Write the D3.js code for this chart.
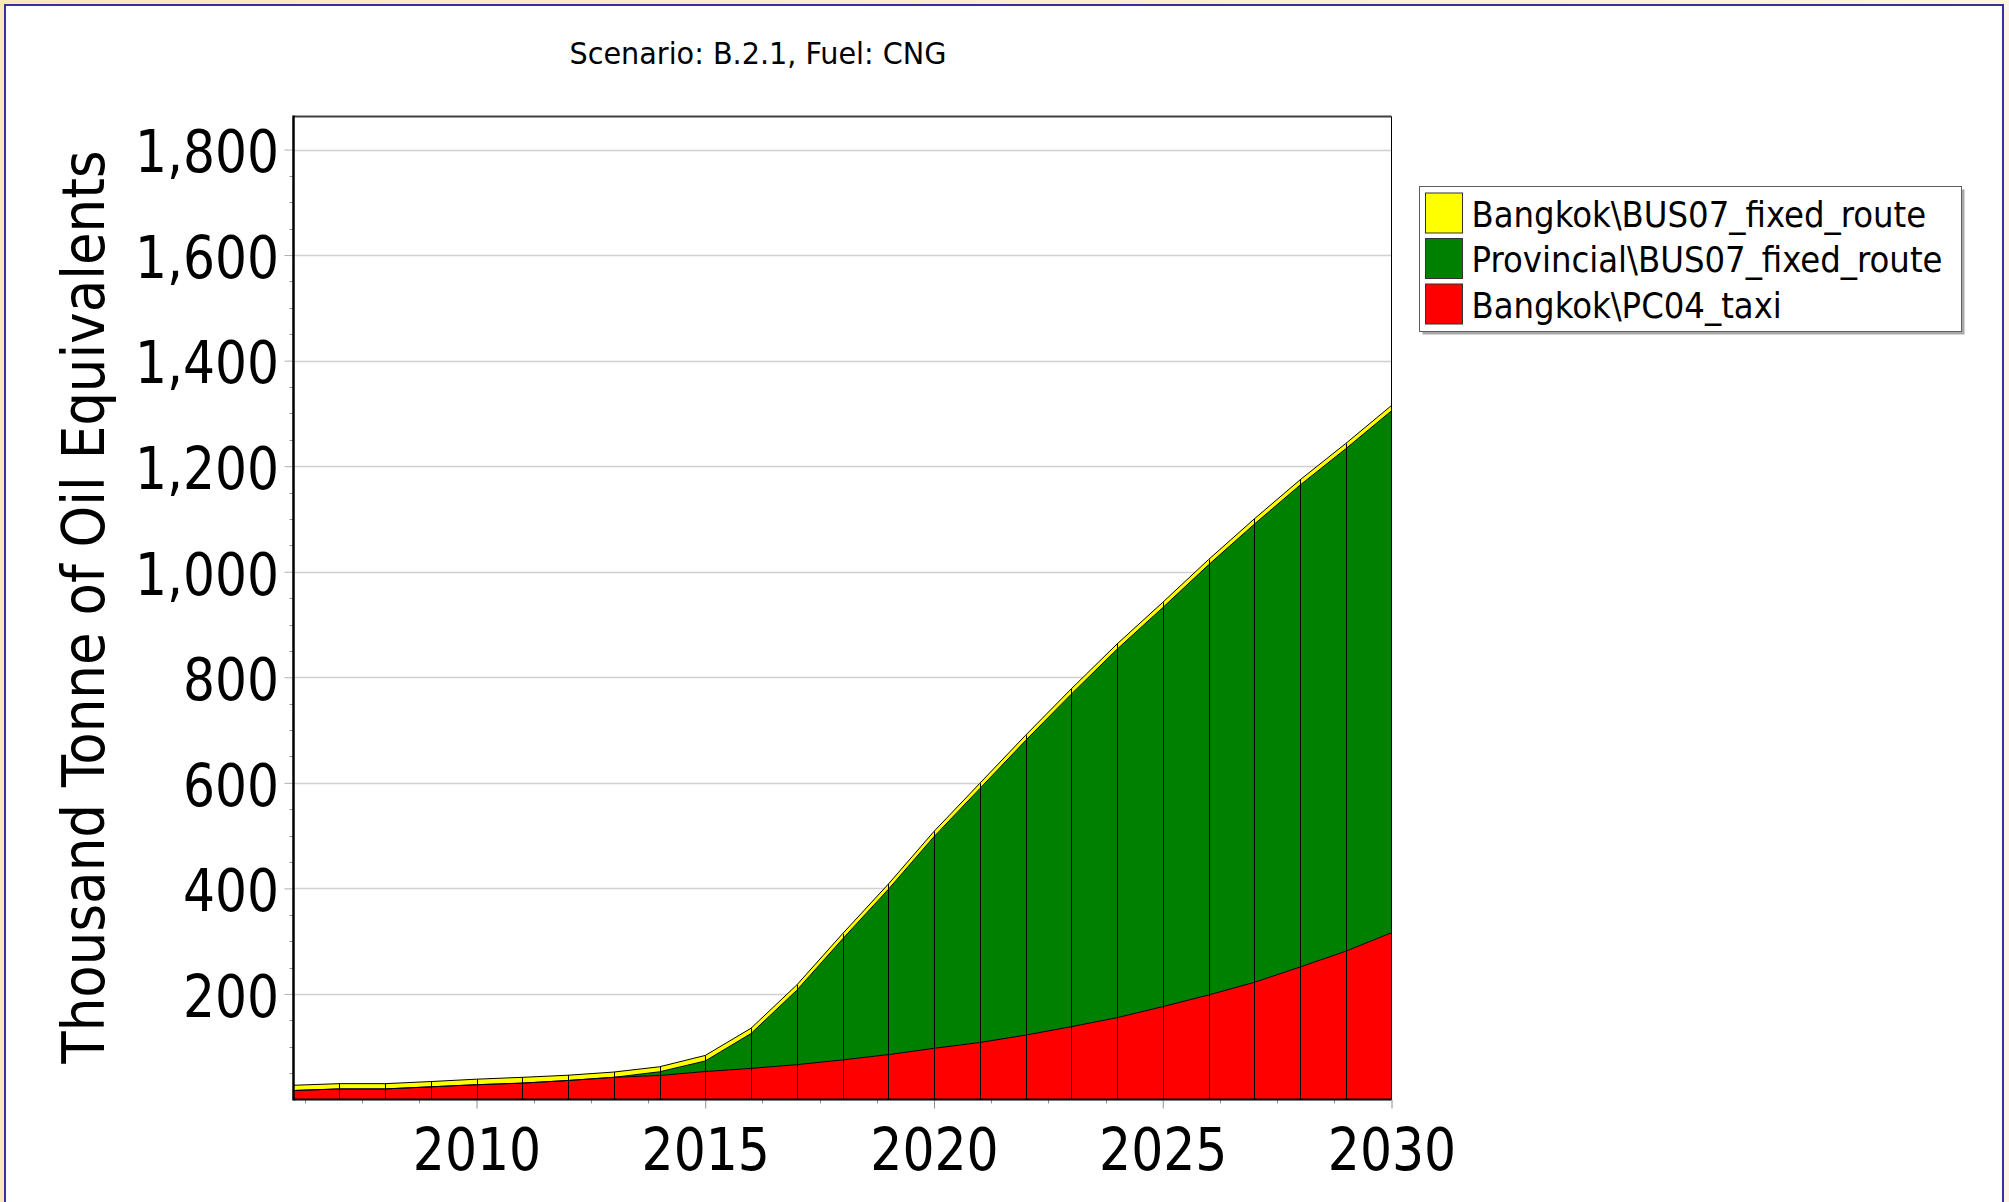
<!DOCTYPE html>
<html>
<head>
<meta charset="utf-8">
<script src="https://cdn.jsdelivr.net/npm/d3@7"></script>
<style>
  html, body { margin: 0; padding: 0; background: #ffffff; overflow: hidden; }
  svg { display: block; }
  text { font-family: Tahoma, "DejaVu Sans Condensed", "DejaVu Sans", sans-serif; fill: #000; }
</style>
</head>
<body>
<svg id="chart" width="2009" height="1202"></svg>
<script>
// Final energy demand for CNG by vehicle branch, thousand tonnes of oil equivalent
const years = d3.range(2006, 2031);
const bangkokTaxi = [17, 20, 20, 24, 28, 31, 36, 42, 45.5, 53, 59, 66, 75, 85, 97, 108, 122, 138, 155, 176, 198, 222, 251, 281, 316];
const provincialBus = [0, 0, 0, 0, 0, 0, 0, 0, 7, 20, 66, 141, 229, 313, 401, 481, 558, 630, 698, 756, 815, 868, 913, 952, 989];
const bangkokBus = [10, 10, 10, 10, 10.5, 11, 10, 10, 9.5, 10.5, 10, 10, 10, 10, 10, 10, 10, 10, 10, 10, 10, 10, 10, 10, 10];

const seriesNames = ["Bangkok\\PC04_taxi", "Provincial\\BUS07_fixed_route", "Bangkok\\BUS07_fixed_route"];
const seriesColors = ["#ff0000", "#008000", "#ffff00"];
const yTickValues = [200, 400, 600, 800, 1000, 1200, 1400, 1600, 1800];
const xTickValues = [2010, 2015, 2020, 2025, 2030];
const chartTitle = "Scenario: B.2.1, Fuel: CNG";
const yAxisTitle = "Thousand Tonne of Oil Equivalents";

const FONT = "Tahoma, 'DejaVu Sans Condensed', 'DejaVu Sans', sans-serif";
const svg = d3.select("#chart");

// squeeze a text element horizontally to a share of its natural width
function narrow(sel, ratio) {
  sel.each(function () {
    const w = this.getComputedTextLength();
    d3.select(this).attr("textLength", w * ratio).attr("lengthAdjust", "spacingAndGlyphs");
  });
}

// window frame
const defs = svg.append("defs");
const grad = defs.append("linearGradient").attr("id", "frameBg").attr("x1", 0).attr("x2", 1).attr("y1", 0).attr("y2", 0);
grad.append("stop").attr("offset", "0%").attr("stop-color", "#fbe7b9");
grad.append("stop").attr("offset", "100%").attr("stop-color", "#fdf5e2");
svg.append("rect").attr("x", 0).attr("y", 0).attr("width", 2009).attr("height", 1202).attr("fill", "url(#frameBg)");
svg.append("rect").attr("x", 5).attr("y", 5).attr("width", 1998).attr("height", 1210)
  .attr("fill", "#ffffff").attr("stroke", "#333399").attr("stroke-width", 2);

// plot geometry
const plot = { left: 293.5, right: 1391.5, top: 116.5, bottom: 1099.5 };
const x = d3.scaleLinear().domain([2006, 2030]).range([plot.left, plot.right]);
const y = d3.scaleLinear().domain([0, 1800]).range([plot.bottom, 149.5]);

// gridlines
svg.append("g").selectAll("line").data(yTickValues).join("line")
  .attr("x1", plot.left).attr("x2", plot.right)
  .attr("y1", d => Math.round(y(d)) + 0.5).attr("y2", d => Math.round(y(d)) + 0.5)
  .attr("stroke", "#d0d0d0").attr("stroke-width", 1.5);

// stacked layers
const table = years.map((yr, i) => ({ year: yr, s0: bangkokTaxi[i], s1: provincialBus[i], s2: bangkokBus[i] }));
const stack = d3.stack().keys(["s0", "s1", "s2"]);
const layers = stack(table);

const area = d3.area()
  .x(d => x(d.data.year))
  .y0(d => y(d[0]))
  .y1(d => y(d[1]));

svg.append("g").selectAll("path").data(layers).join("path")
  .attr("d", area)
  .attr("fill", (d, i) => seriesColors[i]);

// outline at the top of each layer
const topLine = d3.line().x(d => x(d.data.year)).y(d => y(d[1]));
svg.append("g").selectAll("path").data(layers).join("path")
  .attr("d", topLine)
  .attr("fill", "none").attr("stroke", "#000").attr("stroke-width", 1);

// year separators through the stack
const totals = layers[layers.length - 1];
svg.append("g").selectAll("line").data(totals.slice(1, -1)).join("line")
  .attr("x1", d => Math.round(x(d.data.year)) + 0.5).attr("x2", d => Math.round(x(d.data.year)) + 0.5)
  .attr("y1", plot.bottom).attr("y2", d => y(d[1]))
  .attr("stroke", "#000").attr("stroke-width", 1);

// plot frame
svg.append("line").attr("x1", plot.left).attr("x2", plot.right).attr("y1", plot.top).attr("y2", plot.top)
  .attr("stroke", "#404040").attr("stroke-width", 2);
svg.append("line").attr("x1", plot.right).attr("x2", plot.right).attr("y1", plot.top).attr("y2", plot.bottom)
  .attr("stroke", "#000").attr("stroke-width", 1);

// minor ticks
const yMinor = d3.range(50, 1850, 50).filter(v => v % 200 !== 0);
svg.append("g").selectAll("line").data(yMinor).join("line")
  .attr("x1", plot.left - 4).attr("x2", plot.left)
  .attr("y1", d => Math.round(y(d)) + 0.5).attr("y2", d => Math.round(y(d)) + 0.5)
  .attr("stroke", "#909090").attr("stroke-width", 1);
const xMinor = d3.range(2006.25, 2030, 1.25).filter(v => Math.abs(v % 5) > 1e-6);
svg.append("g").selectAll("line").data(xMinor).join("line")
  .attr("x1", d => Math.round(x(d)) + 0.5).attr("x2", d => Math.round(x(d)) + 0.5)
  .attr("y1", plot.bottom).attr("y2", plot.bottom + 4)
  .attr("stroke", "#909090").attr("stroke-width", 1);

// y axis
const yAxis = d3.axisLeft(y).tickValues(yTickValues).tickFormat(d3.format(",")).tickSize(9).tickPadding(5.5);
const gy = svg.append("g").attr("transform", `translate(${plot.left},0)`).call(yAxis);
gy.select(".domain").remove();
gy.selectAll(".tick line").attr("stroke", "#b0b0b0");
gy.selectAll(".tick text").attr("font-size", 59).attr("dy", "0.378em")
  .style("font-family", FONT)
  .call(narrow, 0.948);
svg.append("line").attr("x1", plot.left).attr("x2", plot.left).attr("y1", plot.top - 1).attr("y2", plot.bottom + 1)
  .attr("stroke", "#000").attr("stroke-width", 2.5);

// x axis
const xAxis = d3.axisBottom(x).tickValues(xTickValues).tickFormat(d3.format("d")).tickSize(9).tickPadding(20);
const gx = svg.append("g").attr("transform", `translate(0,${plot.bottom})`).call(xAxis);
gx.select(".domain").remove();
gx.selectAll(".tick line").attr("stroke", "#909090");
gx.selectAll(".tick text").attr("font-size", 59)
  .style("font-family", FONT)
  .call(narrow, 0.95);
svg.append("line").attr("x1", plot.left).attr("x2", plot.right).attr("y1", plot.bottom).attr("y2", plot.bottom)
  .attr("stroke", "#000").attr("stroke-width", 2);

// titles
svg.append("text").attr("x", 758).attr("y", 64).attr("text-anchor", "middle")
  .attr("font-size", 31).attr("textLength", 377).attr("lengthAdjust", "spacingAndGlyphs").text(chartTitle);
svg.append("text").attr("transform", "translate(104,607) rotate(-90)").attr("text-anchor", "middle")
  .attr("font-size", 59).text(yAxisTitle);

// legend, listed from top of the stack down
const legend = svg.append("g").attr("transform", "translate(1419.5,183.5)");
legend.append("rect").attr("x", 3).attr("y", 6).attr("width", 542).attr("height", 145).attr("fill", "#a8a8a8");
legend.append("rect").attr("x", 0).attr("y", 3).attr("width", 542).attr("height", 145)
  .attr("fill", "#ffffff").attr("stroke", "#606060").attr("stroke-width", 1);
const order = [2, 1, 0];
const rows = legend.selectAll("g.row").data(order).join("g").attr("class", "row")
  .attr("transform", (d, i) => `translate(0,${i * 45.5})`);
rows.append("rect").attr("x", 6).attr("y", 9.5).attr("width", 37).attr("height", 40)
  .attr("fill", d => seriesColors[d]).attr("stroke", "#333").attr("stroke-width", 1);
rows.append("text").attr("x", 52).attr("y", 43).attr("font-size", 36).text(d => seriesNames[d]);
</script>
</body>
</html>
